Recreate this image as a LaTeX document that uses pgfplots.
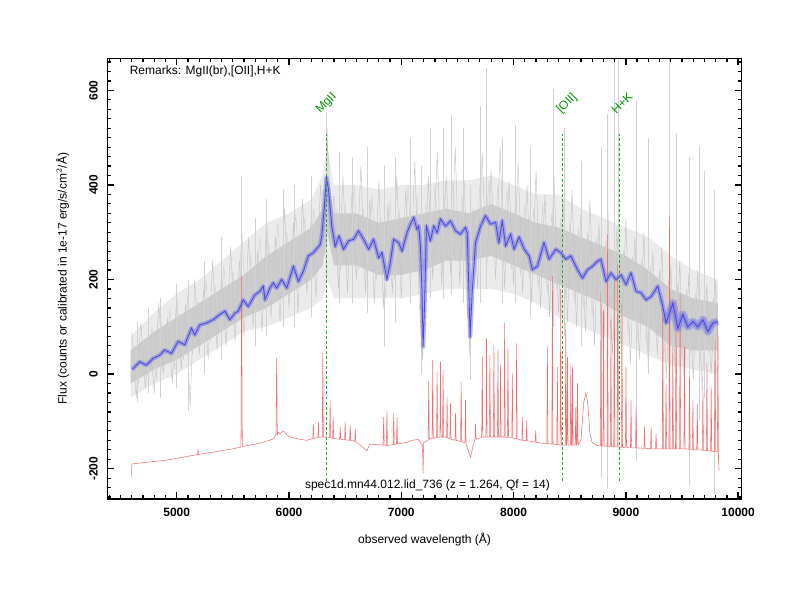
\documentclass[border=0pt]{standalone}
\usepackage{pgfplots}
\pgfplotsset{compat=1.18}
\usepackage{fontspec}
\setmainfont{Liberation Sans}
\usetikzlibrary{calc}
\definecolor{spblue}{RGB}{70,70,225}
\definecolor{spband}{RGB}{120,120,230}
\definecolor{skyred}{RGB}{240,110,110}
\definecolor{lngreen}{RGB}{40,170,40}
\definecolor{txgreen}{RGB}{0,150,0}
\begin{document}
\begin{tikzpicture}
\begin{axis}[
  scale only axis, width=475.8pt, height=330.5pt,
  xmin=4382, xmax=10032, ymin=-264, ymax=668,
  xtick={5000,6000,7000,8000,9000,10000},
  ytick={-200,0,200,400,600},
  minor xtick={4400,4500,...,10000},
  minor ytick={-260,-240,...,660},
  scaled x ticks=false, scaled y ticks=false,
  major tick length=5pt, minor tick length=2.6pt,
  major tick style={black, line width=1pt},
  minor tick style={black, line width=0.9pt},
  axis on top,
  axis line style={line width=1.1pt},
  /pgf/number format/assume math mode=true,
  /pgf/number format/1000 sep={},
  every tick label/.append style={font=\fontsize{9}{10}\selectfont\bfseries},
  xticklabel style={yshift=-3pt},
  yticklabel style={xshift=-7pt, rotate=90, anchor=south, inner sep=0pt},
  xlabel={observed wavelength (Å)},
  ylabel={Flux (counts or calibrated in 1e-17 erg/s/cm$^{2}$/Å)},
  label style={font=\fontsize{9}{10}\selectfont},
  xlabel style={at={(axis description cs:0.5,-0.093)}, anchor=center},
  ylabel style={at={(axis description cs:-0.0705,0.5)}, anchor=center},
]
% grey: outer light envelope of individual spectra
\addplot[draw=none, fill=gray!16] coordinates {
(4590,80) (4800,130) (5000,170) (5200,200) (5400,240) (5600,280) (5800,320) (6000,340) (6200,370) (6300,420) (6340,480) (6400,400) (6600,400) (6800,390) (7000,400) (7200,400) (7400,410) (7600,410) (7800,420) (8000,400) (8200,380) (8400,380) (8600,350) (8800,330) (9000,310) (9200,290) (9400,250) (9600,220) (9820,200)
(9820,0) (9600,10) (9400,20) (9200,40) (9000,60) (8800,80) (8600,100) (8400,120) (8200,150) (8000,170) (7800,180) (7600,180) (7400,180) (7200,170) (7000,160) (6800,160) (6600,160) (6400,160) (6340,200) (6300,160) (6200,140) (6000,120) (5800,100) (5600,90) (5400,60) (5200,30) (5000,0) (4800,-20) (4590,-50)
} -- cycle;
% grey: dense inner envelope
\addplot[draw=none, fill=gray!40] coordinates {
(4590,50) (4800,90) (5000,120) (5200,150) (5400,180) (5600,210) (5800,250) (6000,280) (6200,310) (6300,350) (6340,420) (6400,340) (6600,340) (6800,320) (7000,330) (7200,340) (7400,350) (7600,340) (7800,360) (8000,340) (8200,320) (8400,310) (8600,290) (8800,270) (9000,250) (9200,220) (9400,180) (9600,160) (9820,150)
(9820,50) (9600,50) (9400,60) (9200,100) (9000,120) (8800,150) (8600,170) (8400,190) (8200,210) (8000,230) (7800,250) (7600,240) (7400,240) (7200,220) (7000,210) (6800,210) (6600,230) (6400,230) (6340,300) (6300,230) (6200,200) (6000,170) (5800,140) (5600,120) (5400,90) (5200,60) (5000,30) (4800,10) (4590,-20)
} -- cycle;
% grey: noise of the individual spectra
\addplot[gray!45, line width=0.35pt] coordinates {
(4600,90) (4640,-50) (4680,110) (4720,-30) (4760,80) (4800,-40) (4840,150) (4880,0) (4920,120) (4960,-20)
(5000,170) (5040,10) (5080,150) (5120,-70) (5160,200) (5200,40) (5240,180) (5280,30) (5320,240) (5360,50)
(5400,210) (5440,60) (5480,270) (5520,70) (5560,240) (5600,80) (5640,290) (5680,100) (5720,260) (5760,90)
(5800,330) (5840,120) (5880,290) (5920,110) (5960,350) (6000,140) (6040,320) (6080,130) (6120,370) (6160,170)
(6200,340) (6240,160) (6280,400) (6320,250) (6340,520) (6360,280) (6400,380) (6440,180) (6480,420) (6520,170)
(6560,380) (6600,200) (6640,440) (6680,170) (6720,370) (6760,150) (6800,410) (6840,140) (6880,360) (6920,170)
(6960,420) (7000,160) (7040,390) (7080,190) (7120,450) (7160,150) (7190,30) (7240,420) (7280,200) (7320,470)
(7360,190) (7400,420) (7440,210) (7480,480) (7520,190) (7560,410) (7610,40) (7640,350) (7680,180) (7720,470)
(7760,220) (7800,430) (7840,200) (7880,480) (7920,180) (7960,410) (8000,190) (8040,450) (8080,170) (8120,400)
(8160,150) (8200,430) (8240,140) (8280,380) (8320,120) (8360,420) (8400,130) (8440,370) (8480,110) (8520,390)
(8560,100) (8600,340) (8640,90) (8680,370) (8720,60) (8760,320) (8800,30) (8840,350) (8880,40) (8920,310)
(8960,50) (9000,330) (9040,20) (9080,290) (9120,30) (9160,300) (9200,10) (9240,260) (9280,40) (9320,270)
(9360,-10) (9400,230) (9440,0) (9480,240) (9520,-20) (9560,210) (9600,-10) (9640,220) (9680,-30) (9720,190)
(9760,0) (9800,200) (9820,30)
};
\addplot[gray!35, line width=0.35pt] coordinates {
(4620,60) (4660,-20) (4700,70) (4740,0) (4780,100) (4820,-10) (4860,110) (4900,20) (4940,140) (4980,10)
(5020,130) (5060,30) (5100,170) (5140,40) (5180,160) (5220,60) (5260,200) (5300,70) (5340,190) (5380,90)
(5420,230) (5460,100) (5500,220) (5540,110) (5580,300) (5620,120) (5660,250) (5700,140) (5740,290) (5780,150)
(5820,280) (5860,160) (5900,320) (5940,170) (5980,300) (6020,190) (6060,340) (6100,200) (6140,330) (6180,220)
(6220,350) (6260,230) (6300,390) (6330,320) (6350,470) (6380,260) (6420,350) (6460,220) (6500,360) (6540,230)
(6580,400) (6620,220) (6660,350) (6700,210) (6740,380) (6780,200) (6820,330) (6860,160) (6900,370) (6940,200)
(6980,350) (7020,210) (7060,400) (7100,230) (7140,380) (7180,90) (7220,360) (7260,230) (7300,400) (7340,240)
(7380,380) (7420,250) (7460,410) (7500,240) (7540,380) (7590,120) (7620,300) (7660,230) (7700,400) (7740,260)
(7780,410) (7820,250) (7860,400) (7900,230) (7940,390) (7980,220) (8020,380) (8060,210) (8100,360) (8140,200)
(8180,350) (8220,180) (8260,360) (8300,170) (8340,340) (8380,180) (8420,330) (8460,160) (8500,320) (8540,150)
(8580,310) (8620,140) (8660,300) (8700,120) (8740,290) (8780,100) (8820,280) (8860,90) (8900,270) (8940,100)
(8980,260) (9020,80) (9060,250) (9100,70) (9140,240) (9180,60) (9220,230) (9260,80) (9300,220) (9340,40)
(9380,200) (9420,50) (9460,190) (9500,30) (9540,180) (9580,40) (9620,170) (9660,20) (9700,170) (9740,40)
(9780,160) (9810,60)
};
% grey: spikes of the individual spectra
\addplot[gray!35, line width=0.5pt, unbounded coords=jump] coordinates {
(4650,-60) (4650,110) (4650,nan)
(4750,-40) (4750,140) (4750,nan)
(4850,-50) (4850,160) (4850,nan)
(5000,-30) (5000,190) (5000,nan)
(5100,-77) (5100,200) (5100,nan)
(5250,0) (5250,240) (5250,nan)
(5400,30) (5400,290) (5400,nan)
(5578,60) (5578,420) (5578,nan)
(5700,60) (5700,330) (5700,nan)
(5800,80) (5800,370) (5800,nan)
(5950,100) (5950,390) (5950,nan)
(6050,100) (6050,400) (6050,nan)
(6200,120) (6200,420) (6200,nan)
(6330,200) (6330,555) (6330,nan)
(6450,150) (6450,470) (6450,nan)
(6560,150) (6560,460) (6560,nan)
(6700,130) (6700,480) (6700,nan)
(6850,60) (6850,440) (6850,nan)
(6950,110) (6950,460) (6950,nan)
(7080,150) (7080,500) (7080,nan)
(7180,0) (7180,440) (7180,nan)
(7260,160) (7260,520) (7260,nan)
(7370,160) (7370,520) (7370,nan)
(7450,170) (7450,547) (7450,nan)
(7550,150) (7550,520) (7550,nan)
(7613,-13) (7613,400) (7613,nan)
(7700,150) (7700,566) (7700,nan)
(7760,180) (7760,647) (7760,nan)
(7900,150) (7900,500) (7900,nan)
(8020,150) (8020,526) (8020,nan)
(8150,120) (8150,480) (8150,nan)
(8350,100) (8350,604) (8350,nan)
(8450,80) (8450,520) (8450,nan)
(8600,60) (8600,450) (8600,nan)
(8778,-219) (8778,480) (8778,nan)
(8837,-240) (8837,551) (8837,nan)
(8900,-50) (8900,668) (8900,nan)
(8930,-80) (8930,668) (8930,nan)
(9091,-183) (9091,577) (9091,nan)
(9200,0) (9200,500) (9200,nan)
(9389,-50) (9389,668) (9389,nan)
(9450,-20) (9450,508) (9450,nan)
(9567,-236) (9567,460) (9567,nan)
(9650,-100) (9650,483) (9650,nan)
(9700,-50) (9700,429) (9700,nan)
(9790,-253) (9790,389) (9790,nan)
};
% red: sky spectrum
\addplot[skyred, line width=0.4pt] coordinates {
(4598,-218) (4600,-190) (4750,-186) (4908,-182) (5050,-176) (5186,-170) (5190,-158) (5194,-170)
(5350,-164) (5500,-158) (5572,-154) (5578,207) (5584,-153) (5700,-148) (5800,-142) (5860,-137)
(5884,-128) (5890,34) (5896,-128) (5905,-123) (5920,-126) (5950,-120) (5980,-128) (6009,-133)
(6100,-138) (6158,-140) (6212,-136) (6217,-105) (6222,-136) (6257,-134) (6262,-101) (6267,-134)
(6296,-133) (6301,47) (6306,-133) (6337,-133) (6361,-134) (6366,-55) (6371,-134) (6388,-135)
(6393,-91) (6398,-136) (6451,-138) (6456,-112) (6461,-138) (6495,-139) (6500,-101) (6505,-139)
(6540,-140) (6545,-109) (6550,-140) (6585,-142) (6590,-117) (6595,-143) (6694,-162) (6720,-148)
(6838,-150) (6843,-91) (6848,-150) (6867,-151) (6872,-77) (6877,-151) (6927,-149) (6932,-83)
(6937,-149) (6957,-148) (6962,-91) (6967,-148) (7050,-144) (7100,-140) (7150,-138) (7189,-150)
(7194,-211) (7199,-145) (7239,-140) (7244,-16) (7249,-138) (7275,-136) (7280,30) (7285,-136)
(7314,-134) (7319,5) (7324,-134) (7344,-133) (7349,26) (7354,-133) (7367,-133) (7372,9)
(7377,-133) (7403,-134) (7408,-48) (7413,-135) (7433,-137) (7438,-62) (7443,-138) (7478,-140)
(7483,-83) (7488,-140) (7528,-142) (7533,-16) (7538,-143) (7567,-146) (7572,-55) (7577,-148)
(7617,-176) (7640,-150) (7656,-140) (7661,-105) (7666,-138) (7716,-134) (7721,37) (7726,-133)
(7754,-133) (7759,76) (7764,-133) (7784,-133) (7789,40) (7794,-133) (7820,-133) (7825,62)
(7830,-133) (7856,-133) (7861,51) (7866,-133) (7879,-133) (7884,19) (7889,-133) (7915,-133)
(7920,108) (7925,-133) (7945,-134) (7950,55) (7955,-134) (7984,-135) (7989,1) (7994,-135)
(8022,-137) (8027,65) (8032,-137) (8073,-140) (8078,-91) (8083,-140) (8112,-141) (8117,-98)
(8122,-141) (8192,-144) (8197,-119) (8202,-144) (8270,-147) (8296,-147) (8301,58) (8306,-147)
(8341,-148) (8346,207) (8351,-148) (8385,-149) (8390,15) (8395,-149) (8415,-150) (8420,180)
(8425,-150) (8460,-150) (8465,108) (8470,-150) (8475,-150) (8480,36) (8485,-150) (8505,-150)
(8510,23) (8515,-150) (8520,-150) (8525,15) (8530,-150) (8549,-150) (8554,-70) (8559,-150)
(8564,-150) (8569,-19) (8574,-150) (8600,-140) (8625,-60) (8643,-40) (8660,-60) (8680,-126)
(8700,-145) (8748,-151) (8773,-152) (8778,172) (8783,-152) (8796,-152) (8801,136) (8806,-152)
(8832,-153) (8837,296) (8842,-153) (8862,-153) (8867,115) (8872,-153) (8892,-154) (8897,207)
(8902,-154) (8922,-154) (8927,232) (8932,-154) (8960,-155) (8965,150) (8970,-155) (8996,-155)
(9001,15) (9006,-155) (9041,-156) (9046,-55) (9051,-156) (9086,-156) (9091,-70) (9096,-156)
(9161,-157) (9166,-112) (9171,-157) (9220,-158) (9225,-112) (9230,-158) (9264,-158) (9269,-126)
(9274,-158) (9324,-158) (9329,150) (9334,-158) (9353,-158) (9358,-20) (9363,-158) (9384,-158)
(9389,335) (9394,-158) (9413,-158) (9418,58) (9423,-158) (9442,-158) (9447,157) (9452,-158)
(9478,-158) (9483,172) (9488,-158) (9517,-158) (9522,58) (9527,-158) (9562,-159) (9567,-6)
(9572,-159) (9592,-160) (9597,-55) (9602,-160) (9631,-160) (9636,-62) (9641,-160) (9681,-161)
(9686,-27) (9691,-161) (9717,-162) (9722,23) (9727,-162) (9755,-163) (9760,-27) (9765,-163)
(9790,-164) (9795,72) (9800,-164) (9815,-165) (9820,100) (9825,-180) (9830,-204)
};
% blue band (uncertainty of the coadded spectrum)
\addplot[spband, opacity=0.55, line width=3.2pt, line join=round] coordinates {
(4604,10) (4670,26) (4730,19) (4789,33) (4848,40) (4893,51) (4953,44) (5012,69) (5072,62) (5131,97)
(5161,83) (5205,104) (5265,108) (5324,115) (5384,126) (5429,133) (5473,115) (5518,129) (5548,133)
(5592,157) (5637,143) (5697,168) (5741,175) (5771,186) (5786,157) (5830,182) (5860,193) (5890,182)
(5935,200) (5980,182) (6039,228) (6084,196) (6128,218) (6173,250) (6218,257) (6277,274) (6292,292)
(6313,349) (6333,416) (6351,392) (6381,313) (6411,270) (6445,292) (6486,264) (6530,282) (6575,285)
(6619,303) (6664,285) (6709,264) (6753,285) (6798,246) (6828,257) (6872,200) (6902,236) (6932,285)
(6977,278) (7006,260) (7051,299) (7081,317) (7111,331) (7140,306) (7155,313) (7170,271) (7185,172)
(7194,58) (7206,136) (7224,313) (7259,282) (7289,313) (7319,299) (7349,328) (7393,313) (7438,324)
(7483,303) (7527,296) (7572,310) (7587,299) (7601,186) (7613,79) (7631,172) (7661,278) (7706,313)
(7750,335) (7795,317) (7840,321) (7869,278) (7899,324) (7929,271) (7974,296) (8004,264) (8049,290)
(8093,265) (8138,250) (8167,221) (8212,228) (8271,278) (8316,243) (8376,264) (8420,257) (8465,243)
(8510,250) (8569,221) (8614,203) (8659,221) (8703,228) (8748,239) (8778,243) (8823,196) (8867,214)
(8912,200) (8957,210) (9001,189) (9046,214) (9091,175) (9135,172) (9180,157) (9225,164) (9284,186)
(9329,143) (9358,108) (9418,150) (9463,97) (9507,126) (9552,100) (9597,111) (9641,100) (9686,115)
(9730,90) (9775,108) (9820,111)
};
\addplot[spband, opacity=0.45, line width=6pt, line join=round] coordinates {
(9358,108) (9418,150) (9463,97) (9507,126) (9552,100) (9597,111) (9641,100) (9686,115)
(9730,90) (9775,108) (9820,111)
};
% blue: coadded spectrum
\addplot[spblue, line width=0.6pt] coordinates {
(4604,10) (4670,26) (4730,19) (4789,33) (4848,40) (4893,51) (4953,44) (5012,69) (5072,62) (5131,97)
(5161,83) (5205,104) (5265,108) (5324,115) (5384,126) (5429,133) (5473,115) (5518,129) (5548,133)
(5592,157) (5637,143) (5697,168) (5741,175) (5771,186) (5786,157) (5830,182) (5860,193) (5890,182)
(5935,200) (5980,182) (6039,228) (6084,196) (6128,218) (6173,250) (6218,257) (6277,274) (6292,292)
(6313,349) (6333,416) (6351,392) (6381,313) (6411,270) (6445,292) (6486,264) (6530,282) (6575,285)
(6619,303) (6664,285) (6709,264) (6753,285) (6798,246) (6828,257) (6872,200) (6902,236) (6932,285)
(6977,278) (7006,260) (7051,299) (7081,317) (7111,331) (7140,306) (7155,313) (7170,271) (7185,172)
(7194,58) (7206,136) (7224,313) (7259,282) (7289,313) (7319,299) (7349,328) (7393,313) (7438,324)
(7483,303) (7527,296) (7572,310) (7587,299) (7601,186) (7613,79) (7631,172) (7661,278) (7706,313)
(7750,335) (7795,317) (7840,321) (7869,278) (7899,324) (7929,271) (7974,296) (8004,264) (8049,290)
(8093,265) (8138,250) (8167,221) (8212,228) (8271,278) (8316,243) (8376,264) (8420,257) (8465,243)
(8510,250) (8569,221) (8614,203) (8659,221) (8703,228) (8748,239) (8778,243) (8823,196) (8867,214)
(8912,200) (8957,210) (9001,189) (9046,214) (9091,175) (9135,172) (9180,157) (9225,164) (9284,186)
(9329,143) (9358,108) (9418,150) (9463,97) (9507,126) (9552,100) (9597,111) (9641,100) (9686,115)
(9730,90) (9775,108) (9820,111)
};
% green: line identifications
\addplot[lngreen, line width=0.8pt, dash pattern=on 2.2pt off 1.6pt] coordinates {(6335,-225) (6335,508)};
\addplot[lngreen, line width=0.8pt, dash pattern=on 2.2pt off 1.6pt] coordinates {(8438,-225) (8438,508)};
\addplot[lngreen, line width=0.8pt, dash pattern=on 2.2pt off 1.6pt] coordinates {(8945,-225) (8945,508)};
\node[txgreen, rotate=45, font=\fontsize{9}{10}\selectfont, inner sep=1pt] at (axis cs:6335,572) {MgII};
\node[txgreen, rotate=45, font=\fontsize{9}{10}\selectfont, inner sep=1pt] at (axis cs:8475,572) {[OII]};
\node[txgreen, rotate=45, font=\fontsize{9}{10}\selectfont, inner sep=1pt] at (axis cs:8965,572) {H+K};
\node[anchor=west, font=\fontsize{9}{10}\selectfont, inner sep=0pt] at (axis cs:4580,640) {Remarks: MgII(br),[OII],H+K};
\node[font=\fontsize{9}{10}\selectfont, inner sep=0pt] at (axis cs:7233,-236) {spec1d.mn44.012.lid\_736 (z = 1.264, Qf = 14)};
\end{axis}
\path[use as bounding box] ($(current axis.south west)+(-80.5pt,-75.75pt)$) rectangle ($(current axis.north east)+(43.7pt,43.7pt)$);
\end{tikzpicture}
\end{document}
